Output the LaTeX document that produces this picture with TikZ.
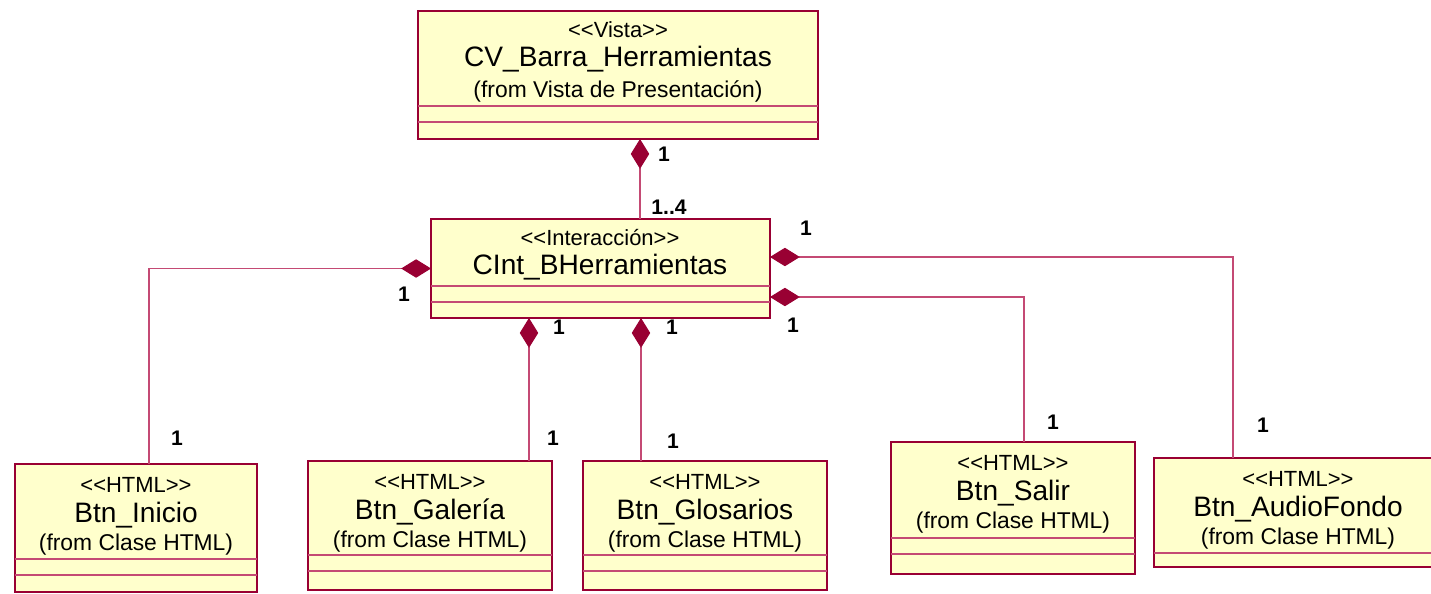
\documentclass[tikz,border=0pt]{standalone}
\usepackage{fontspec}
\setmainfont{Liberation Sans}[Ligatures=TeXOff]
\usetikzlibrary{arrows.meta}
\definecolor{rosered}{RGB}{153,0,51}
\definecolor{roseline}{RGB}{196,74,116}
\definecolor{roseyellow}{RGB}{255,255,204}
\begin{document}
\begin{tikzpicture}[x=0.02cm, y=-0.02cm,
	clase/.style={draw=rosered, line width=0.9pt, fill=roseyellow, inner sep=0pt, outer sep=0pt},
	comp/.style={draw=roseline, line width=0.6pt},
	stereo/.style={font=\fontsize{12.5}{14}\selectfont, inner sep=0pt},
	nombre/.style={font=\fontsize{16}{18}\selectfont, inner sep=0pt},
	origen/.style={font=\fontsize{13}{15}\selectfont, inner sep=0pt},
	mult/.style={font=\fontsize{12}{14}\selectfont\bfseries, inner sep=0pt},
	compos/.style={draw=roseline, line width=0.6pt, -{Diamond[length=17pt, width=10.5pt, color=rosered]}}]
	\useasboundingbox (0,0) rectangle (1431,593);
	\node[clase, minimum width=8cm, minimum height=2.56cm] (vista) at (618,75) {};
	\node[clase, minimum width=6.78cm, minimum height=1.98cm] (interaccion) at (600.5,268.5) {};
	\node[clase, minimum width=4.84cm, minimum height=2.56cm] (inicio) at (136,528) {};
	\node[clase, minimum width=4.88cm, minimum height=2.58cm] (galeria) at (430,525.5) {};
	\node[clase, minimum width=4.88cm, minimum height=2.58cm] (glosarios) at (705,525.5) {};
	\node[clase, minimum width=4.88cm, minimum height=2.64cm] (salir) at (1013,508) {};
	\node[clase, minimum width=5.76cm, minimum height=2.18cm] (audio) at (1298,512.5) {};
	\foreach \n/\y in {vista/106, vista/122, interaccion/286, interaccion/302, inicio/559, inicio/575, galeria/555, galeria/571, glosarios/555, glosarios/571, salir/538, salir/554, audio/553}
		\draw[comp] (\n.west |- 0,\y) -- (\n.east |- 0,\y);
	\node[stereo] (vista-st) at (618,30) {<<Vista>>};
	\node[nombre] (vista-nm) at (618,59) {CV\_Barra\_Herramientas};
	\node[origen] (vista-or) at (618,91) {(from Vista de Presentación)};
	\node[stereo] (interaccion-st) at (600,238) {<<Interacción>>};
	\node[nombre] (interaccion-nm) at (600,267) {CInt\_BHerramientas};
	\foreach \n/\t in {inicio/Btn\_Inicio, galeria/Btn\_Galería, glosarios/Btn\_Glosarios, salir/Btn\_Salir, audio/Btn\_AudioFondo}{
		\node[stereo] (\n-st) at ([yshift=-0.41cm]\n.north) {<<HTML>>};
		\node[nombre] (\n-nm) at ([yshift=-1.02cm]\n.north) {\t};
		\node[origen] (\n-or) at ([yshift=-1.62cm]\n.north) {(from Clase HTML)};
	}
	\draw[compos] (640,0 |- interaccion.north) -- (640,0 |- vista.south);
	\draw[compos] (149,0 |- inicio.north) |- (interaccion.west);
	\draw[compos] (529,0 |- galeria.north) -- (529,0 |- interaccion.south);
	\draw[compos] (641,0 |- glosarios.north) -- (641,0 |- interaccion.south);
	\draw[compos] (1024,0 |- salir.north) |- (interaccion.east |- 0,297);
	\draw[compos] (1233,0 |- audio.north) |- (interaccion.east |- 0,257);
	\node[mult] (m-vista) at (664,154) {1};
	\node[mult] (m-int) at (669,207) {1..4};
	\node[mult] (m-izq) at (404,294) {1};
	\node[mult] (m-gal1) at (559,327) {1};
	\node[mult] (m-glo1) at (672,327) {1};
	\node[mult] (m-aud1) at (806,228) {1};
	\node[mult] (m-sal1) at (793,325) {1};
	\node[mult] (m-ini) at (177,438) {1};
	\node[mult] (m-gal2) at (553,438) {1};
	\node[mult] (m-glo2) at (673,441) {1};
	\node[mult] (m-sal2) at (1053,422) {1};
	\node[mult] (m-aud2) at (1263,425) {1};
\end{tikzpicture}
\end{document}
